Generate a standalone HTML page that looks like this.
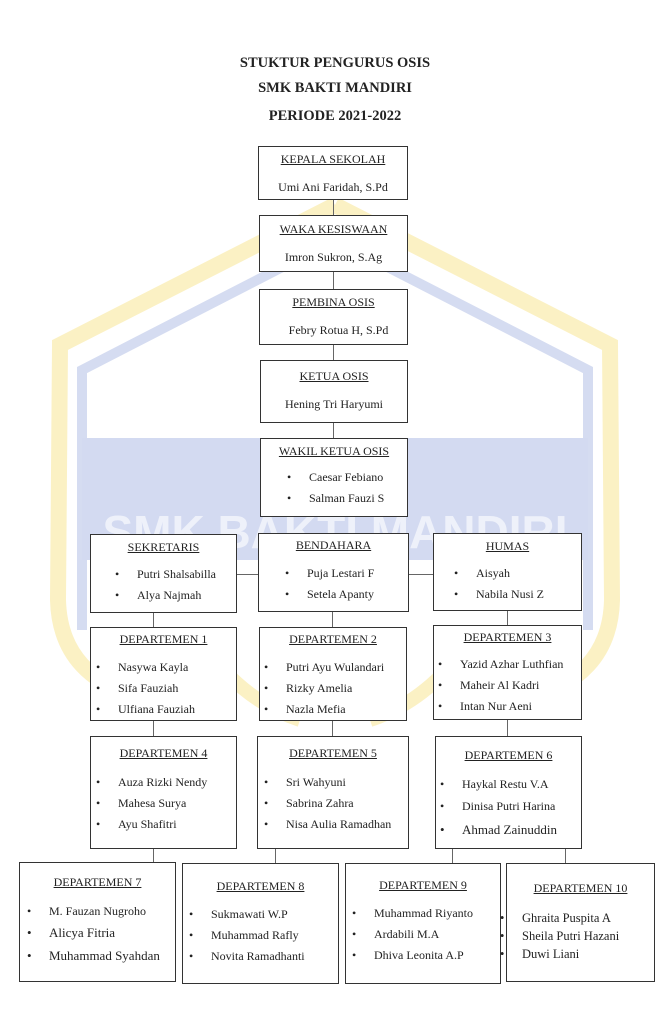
<!DOCTYPE html>
<html><head><meta charset="utf-8"><style>
body{margin:0;width:670px;height:1024px;background:#fff;position:relative;overflow:hidden;font-family:"Liberation Serif",serif;color:#222}
.t{position:absolute;left:0;width:670px;text-align:center;font-weight:bold;font-size:14.5px}
.b{position:absolute;border:1.5px solid #333;background:#fff;box-sizing:border-box;font-size:12px}
.h{text-align:center;text-decoration:underline;position:absolute;left:0;right:0}
.n{text-align:center;position:absolute;left:0;right:0}
.l{position:absolute;white-space:nowrap}
.l:before{content:"•";position:absolute;left:-22px}
.v{position:absolute;width:1px;background:#666}
</style></head><body>
<svg width="670" height="1024" style="position:absolute;left:0;top:0">
<path d="M335 205 L60 345 L58 600 Q60 680 150 700 M335 205 L610 345 L612 600 Q610 680 520 700" fill="none" stroke="#fbf1c4" stroke-width="16"/>
<path d="M335 240 L82 370 L82 630 M335 240 L588 370 L588 630" fill="none" stroke="#d5dcf1" stroke-width="10"/>
<rect x="82" y="438" width="506" height="122" fill="#d3daf1"/>
<text x="335" y="548" text-anchor="middle" font-family="Liberation Sans" font-weight="bold" font-size="46" fill="#eef1fa">SMK BAKTI MANDIRI</text>
<path d="M200 640 Q240 700 300 720 M470 640 Q430 700 370 720" fill="none" stroke="#fbf1c4" stroke-width="14"/>
</svg>
<div class="t" style="top:55px">STUKTUR PENGURUS OSIS</div>
<div class="t" style="top:80px">SMK BAKTI MANDIRI</div>
<div class="t" style="top:108px">PERIODE 2021-2022</div>

<div class="v" style="left:333px;top:199px;height:240px"></div>
<div class="v" style="left:90px;top:574px;width:491px;height:1px"></div>
<div class="v" style="left:153px;top:612px;height:250px"></div>
<div class="v" style="left:332px;top:611px;height:125px"></div>
<div class="v" style="left:507px;top:610px;height:126px"></div>
<div class="v" style="left:275px;top:848px;height:15px"></div>
<div class="v" style="left:452px;top:848px;height:15px"></div>
<div class="v" style="left:565px;top:848px;height:15px"></div>

<div class="b" style="left:258px;top:146px;width:150px;height:54px"><div class="h" style="top:5px">KEPALA SEKOLAH</div><div class="n" style="top:33px">Umi Ani Faridah, S.Pd</div></div>
<div class="b" style="left:259px;top:215px;width:149px;height:57px"><div class="h" style="top:6px">WAKA KESISWAAN</div><div class="n" style="top:34px">Imron Sukron, S.Ag</div></div>
<div class="b" style="left:259px;top:289px;width:149px;height:56px"><div class="h" style="top:5px">PEMBINA OSIS</div><div class="n" style="top:33px;left:10px">Febry Rotua H, S.Pd</div></div>
<div class="b" style="left:260px;top:360px;width:148px;height:63px"><div class="h" style="top:8px">KETUA OSIS</div><div class="n" style="top:36px">Hening Tri Haryumi</div></div>
<div class="b" style="left:260px;top:438px;width:148px;height:79px"><div class="h" style="top:5px">WAKIL KETUA OSIS</div><div class="l" style="left:48px;top:31px">Caesar Febiano</div><div class="l" style="left:48px;top:52px">Salman Fauzi S</div></div>

<div class="b" style="left:90px;top:534px;width:147px;height:79px"><div class="h" style="top:5px">SEKRETARIS</div><div class="l" style="left:46px;top:32px">Putri Shalsabilla</div><div class="l" style="left:46px;top:53px">Alya Najmah</div></div>
<div class="b" style="left:258px;top:533px;width:151px;height:79px"><div class="h" style="top:4px">BENDAHARA</div><div class="l" style="left:48px;top:32px">Puja Lestari F</div><div class="l" style="left:48px;top:53px">Setela Apanty</div></div>
<div class="b" style="left:433px;top:533px;width:149px;height:78px"><div class="h" style="top:5px">HUMAS</div><div class="l" style="left:42px;top:32px">Aisyah</div><div class="l" style="left:42px;top:53px">Nabila Nusi Z</div></div>

<div class="b" style="left:90px;top:627px;width:147px;height:94px"><div class="h" style="top:4px">DEPARTEMEN 1</div><div class="l" style="left:27px;top:32px">Nasywa Kayla</div><div class="l" style="left:27px;top:53px">Sifa Fauziah</div><div class="l" style="left:27px;top:74px">Ulfiana Fauziah</div></div>
<div class="b" style="left:259px;top:627px;width:148px;height:94px"><div class="h" style="top:4px">DEPARTEMEN 2</div><div class="l" style="left:26px;top:32px">Putri Ayu Wulandari</div><div class="l" style="left:26px;top:53px">Rizky Amelia</div><div class="l" style="left:26px;top:74px">Nazla Mefia</div></div>
<div class="b" style="left:433px;top:625px;width:149px;height:95px"><div class="h" style="top:4px">DEPARTEMEN 3</div><div class="l" style="left:26px;top:31px">Yazid Azhar Luthfian</div><div class="l" style="left:26px;top:52px">Maheir Al Kadri</div><div class="l" style="left:26px;top:73px">Intan Nur Aeni</div></div>

<div class="b" style="left:90px;top:736px;width:147px;height:113px"><div class="h" style="top:9px">DEPARTEMEN 4</div><div class="l" style="left:27px;top:38px">Auza Rizki Nendy</div><div class="l" style="left:27px;top:59px">Mahesa Surya</div><div class="l" style="left:27px;top:80px">Ayu Shafitri</div></div>
<div class="b" style="left:257px;top:736px;width:152px;height:113px"><div class="h" style="top:9px">DEPARTEMEN 5</div><div class="l" style="left:28px;top:38px">Sri Wahyuni</div><div class="l" style="left:28px;top:59px">Sabrina Zahra</div><div class="l" style="left:28px;top:80px">Nisa Aulia Ramadhan</div></div>
<div class="b" style="left:435px;top:736px;width:147px;height:113px"><div class="h" style="top:11px">DEPARTEMEN 6</div><div class="l" style="left:26px;top:40px">Haykal Restu V.A</div><div class="l" style="left:26px;top:62px">Dinisa Putri Harina</div><div class="l" style="left:26px;top:85px;font-size:13px">Ahmad Zainuddin</div></div>

<div class="b" style="left:19px;top:862px;width:157px;height:120px"><div class="h" style="top:12px">DEPARTEMEN 7</div><div class="l" style="left:29px;top:41px">M. Fauzan Nugroho</div><div class="l" style="left:29px;top:62px;font-size:13px">Alicya Fitria</div><div class="l" style="left:29px;top:85px;font-size:13px">Muhammad Syahdan</div></div>
<div class="b" style="left:182px;top:863px;width:157px;height:121px"><div class="h" style="top:15px">DEPARTEMEN 8</div><div class="l" style="left:28px;top:43px">Sukmawati W.P</div><div class="l" style="left:28px;top:64px">Muhammad Rafly</div><div class="l" style="left:28px;top:85px">Novita Ramadhanti</div></div>
<div class="b" style="left:345px;top:863px;width:156px;height:121px"><div class="h" style="top:14px">DEPARTEMEN 9</div><div class="l" style="left:28px;top:42px">Muhammad Riyanto</div><div class="l" style="left:28px;top:63px">Ardabili M.A</div><div class="l" style="left:28px;top:84px">Dhiva Leonita A.P</div></div>
<div class="b" style="left:506px;top:863px;width:149px;height:119px"><div class="h" style="top:17px">DEPARTEMEN 10</div><div class="l" style="left:15px;top:47px;font-size:12.5px">Ghraita Puspita A</div><div class="l" style="left:15px;top:65px;font-size:12.5px">Sheila Putri Hazani</div><div class="l" style="left:15px;top:83px;font-size:12.5px">Duwi Liani</div></div>
</body></html>
